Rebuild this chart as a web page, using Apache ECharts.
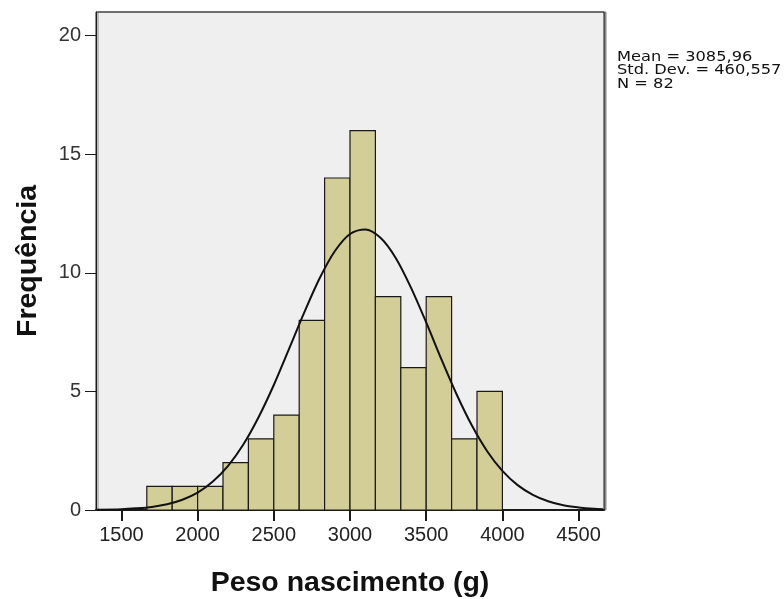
<!DOCTYPE html>
<html>
<head>
<meta charset="utf-8">
<script src="https://cdn.jsdelivr.net/npm/echarts@6/dist/echarts.min.js"></script>
<style>
  html, body { margin: 0; padding: 0; background: #fff; }
  #main { width: 784px; height: 599px; }
</style>
</head>
<body>
<div id="main"></div>
<script>
// histograma - limites inferiores das classes e frequencias
var binLower = [1666.67, 1833.33, 2000, 2166.67, 2333.33, 2500, 2666.67, 2833.33, 3000, 3166.67, 3333.33, 3500, 3666.67, 3833.33];
var binWidth = 166.67;
var counts = [1, 1, 1, 2, 3, 4, 8, 14, 16, 9, 6, 9, 3, 5];

// curva normal
var curveX = [1340, 1500, 1600, 1700, 1800, 1900, 2000, 2100, 2200, 2300, 2400, 2500, 2600, 2700, 2800, 2900, 3000, 3100,
  3200, 3300, 3400, 3500, 3600, 3700, 3800, 3900, 4000, 4100, 4200, 4300, 4400, 4500, 4600, 4660];
var curveY = [0.01, 0.03, 0.07, 0.13, 0.24, 0.43, 0.73, 1.2, 1.86, 2.76, 3.91, 5.27, 6.79, 8.33, 9.76, 10.91, 11.64, 11.83,
  11.48, 10.63, 9.38, 7.91, 6.35, 4.87, 3.56, 2.48, 1.65, 1.05, 0.64, 0.37, 0.2, 0.11, 0.05, 0.03];

var xTicks = [1500, 2000, 2500, 3000, 3500, 4000, 4500];
var yTicks = [0, 5, 10, 15, 20];
var statLines = ['Mean = 3085,96', 'Std. Dev. = 460,557', 'N = 82'];

var barData = binLower.map(function (lo, i) {
  return [lo, lo + binWidth, counts[i]];
});
var curveData = curveX.map(function (x, i) {
  return [x, curveY[i]];
});

var myChart = echarts.init(document.getElementById('main'));

var option = {
  animation: false,
  grid: {
    left: 96,
    right: 180,
    top: 12,
    bottom: 89,
    outerBoundsMode: 'none',
    containLabel: false,
    show: true,
    backgroundColor: '#efefef',
    borderColor: '#1a1a1a',
    borderWidth: 1,
    shadowColor: '#8a8a8a',
    shadowOffsetX: 2,
    shadowBlur: 0
  },
  xAxis: {
    type: 'value',
    min: 4000 / 3,
    max: 14000 / 3,
    name: 'Peso nascimento (g)',
    nameLocation: 'middle',
    nameGap: 59,
    nameTextStyle: {
      fontFamily: 'Liberation Sans',
      fontWeight: 'bold',
      fontSize: 28.5,
      color: '#111'
    },
    axisLine: { show: true, lineStyle: { color: '#1a1a1a', width: 2 } },
    axisTick: { show: true, length: 11, lineStyle: { color: '#1a1a1a', width: 2 }, customValues: xTicks },
    axisLabel: {
      customValues: xTicks,
      margin: 15,
      fontFamily: 'Liberation Sans',
      fontSize: 20,
      color: '#222',
      formatter: function (v) { return String(v); }
    },
    splitLine: { show: false }
  },
  yAxis: {
    type: 'value',
    min: 0,
    max: 21,
    name: 'Frequência',
    nameLocation: 'middle',
    nameGap: 53,
    nameTextStyle: {
      fontFamily: 'Liberation Sans',
      fontWeight: 'bold',
      fontSize: 28.5,
      color: '#111'
    },
    axisLine: { show: true, lineStyle: { color: '#1a1a1a', width: 1 } },
    axisTick: { show: true, length: 11, lineStyle: { color: '#1a1a1a', width: 1 }, customValues: yTicks },
    axisLabel: {
      customValues: yTicks,
      margin: 15,
      fontFamily: 'Liberation Sans',
      fontSize: 20,
      color: '#333'
    },
    splitLine: { show: false }
  },
  graphic: [{
    type: 'text',
    left: 617,
    top: 50,
    scaleX: 1.16,
    style: {
      text: statLines.join('\n'),
      font: '14px "DejaVu Sans"',
      lineHeight: 13.5,
      fill: '#111'
    }
  }],
  series: [{
    type: 'custom',
    data: barData,
    encode: { x: [0, 1], y: 2 },
    renderItem: function (params, api) {
      var p0 = api.coord([api.value(0), api.value(2)]);
      var p1 = api.coord([api.value(1), 0]);
      return {
        type: 'rect',
        shape: { x: p0[0], y: p0[1], width: p1[0] - p0[0], height: p1[1] - p0[1] },
        style: { fill: '#d3ce98', stroke: '#1a1a1a', lineWidth: 1.2 }
      };
    },
    z: 2
  }, {
    type: 'line',
    data: curveData,
    smooth: 0.3,
    showSymbol: false,
    symbol: 'none',
    clip: true,
    lineStyle: { color: '#111', width: 2 },
    z: 3
  }]
};

myChart.setOption(option);
</script>
</body>
</html>
